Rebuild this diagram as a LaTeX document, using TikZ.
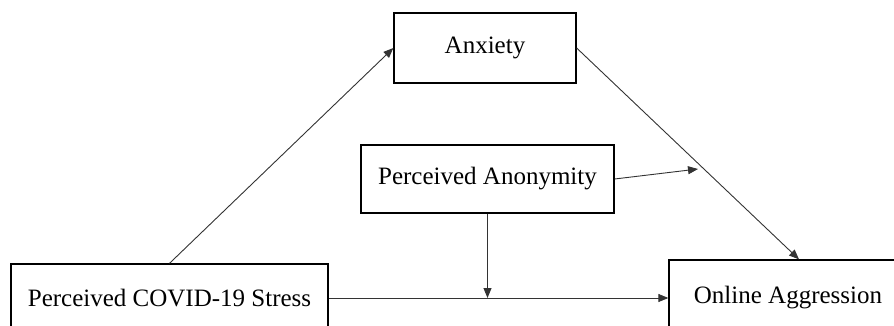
\documentclass[tikz,border=0pt]{standalone}
\usepackage{fontspec}
\setmainfont{Liberation Serif}
\usetikzlibrary{arrows.meta,positioning}
\tikzset{
    every node/.style={font=\fontsize{25}{30}\selectfont},
    main node/.style={shape=rectangle, draw, line width=1.3pt,
    	align=center, inner sep=0pt}
}

\begin{document}
\begin{tikzpicture}[x=1pt,y=1pt,->,>={Triangle[length=10pt,width=8pt]},line width=0.9pt]
    \useasboundingbox (0,0) rectangle (894,325);
    \clip (0,0) rectangle (894,325);

    \node[main node, minimum width=182, minimum height=70] (anx) at (485,277) {Anxiety};
    \node[main node, minimum width=253, minimum height=68] (anon) at (487.5,146) {Perceived Anonymity};
    \node[main node, minimum width=317, minimum height=68] (stress) at (169.5,27) {Perceived COVID-19 Stress};
    \node[main node, minimum width=238, minimum height=76] (aggr) at (788,27) {Online Aggression};
    \coordinate (mod) at (698,156);

    \draw[black!80] (stress.north) -- (anx.west);
    \draw[black!80] (anx.east) -- ([xshift=11pt]aggr.north);
    \draw[black!80] (anon.east) -- (mod);
    \draw[black!80] (anon.south) -- (anon.south |- stress.east);
    \draw[black!80] (stress.east) -- (aggr.west);

\end{tikzpicture}
\end{document}
